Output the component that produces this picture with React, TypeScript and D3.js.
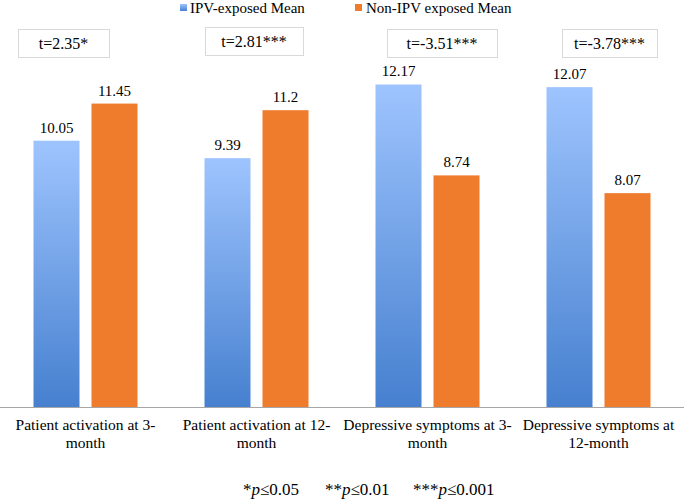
import React from "react";
import * as d3 from "d3";

const categories = [
  ["Patient activation at 3-", "month"],
  ["Patient activation at 12-", "month"],
  ["Depressive symptoms at 3-", "month"],
  ["Depressive symptoms at", "12-month"],
];
const ipvMeans = [10.05, 9.39, 12.17, 12.07];
const nonIpvMeans = [11.45, 11.2, 8.74, 8.07];
const ipvLabels = ["10.05", "9.39", "12.17", "12.07"];
const nonIpvLabels = ["11.45", "11.2", "8.74", "8.07"];
const tStats = ["t=2.35*", "t=2.81***", "t=-3.51***", "t=-3.78***"];
const seriesNames = ["IPV-exposed Mean", "Non-IPV exposed Mean"];
const footStars = ["*", "**", "***"];
const footValues = ["≤0.05", "≤0.01", "≤0.001"];

const W = 684;
const H = 503;
const FONT = "Liberation Serif, DejaVu Serif, serif";

export default function App() {
  const x = d3.scaleBand<number>().domain(d3.range(categories.length)).range([0, W]);
  const y = d3.scaleLinear().domain([0, 14]).range([407, 36]);
  const barW = 46;
  const gap = 12;
  const boxes = [
    { x: 18, y: 29, w: 91, h: 28 },
    { x: 205, y: 27, w: 98, h: 28 },
    { x: 387, y: 29, w: 110, h: 28 },
    { x: 562, y: 29, w: 95, h: 28 },
  ];
  const footX = [243, 325, 413];
  const ts = { fontFamily: FONT };
  return (
    <svg width={W} height={H} style={{ position: "absolute", left: 0, top: 0, background: "#fff", fontFamily: FONT }}>
      <defs>
        <linearGradient id="blueGrad" x1="0" y1="0" x2="0" y2="1">
          <stop offset="0" stopColor="#9ec4fe" />
          <stop offset="1" stopColor="#4680cf" />
        </linearGradient>
      </defs>
      <rect width={W} height={H} fill="#fff" />
      <rect x={180} y={4} width={7} height={7} fill="url(#blueGrad)" />
      <text x={190} y={13} fontSize={15} style={ts} fill="#000">{seriesNames[0]}</text>
      <rect x={355} y={4} width={7} height={7} fill="#ef7b2d" />
      <text x={366} y={13} fontSize={15} style={ts} fill="#000">{seriesNames[1]}</text>
      {categories.map((c, i) => {
        const cx = (x(i) as number) + x.bandwidth() / 2;
        const bx = cx - gap / 2 - barW;
        const ox = cx + gap / 2;
        const b = boxes[i];
        return (
          <g key={i}>
            <rect x={b.x + 0.5} y={b.y + 0.5} width={b.w} height={b.h} fill="#fff" stroke="#d9d9d9" />
            <text x={b.x + b.w / 2} y={b.y + 19.5} fontSize={16} style={ts} textAnchor="middle">{tStats[i]}</text>
            <rect x={bx} y={y(ipvMeans[i])} width={barW} height={y(0) - y(ipvMeans[i])} fill="url(#blueGrad)" />
            <rect x={ox} y={y(nonIpvMeans[i])} width={barW} height={y(0) - y(nonIpvMeans[i])} fill="#ef7b2d" />
            <text x={bx + barW / 2} y={y(ipvMeans[i]) - 8} fontSize={15} style={ts} textAnchor="middle">{ipvLabels[i]}</text>
            <text x={ox + barW / 2} y={y(nonIpvMeans[i]) - 8} fontSize={15} style={ts} textAnchor="middle">{nonIpvLabels[i]}</text>
            <text x={cx} y={430} fontSize={15.5} style={ts} textAnchor="middle">{c[0]}</text>
            <text x={cx} y={448} fontSize={15.5} style={ts} textAnchor="middle">{c[1]}</text>
          </g>
        );
      })}
      <line x1={0} x2={W} y1={y(0) + 0.5} y2={y(0) + 0.5} stroke="#a6a6a6" />
      {footStars.map((s, i) => (
        <text key={i} x={footX[i]} y={495} fontSize={17} style={ts}>
          {s}<tspan fontStyle="italic">p</tspan>{footValues[i]}
        </text>
      ))}
    </svg>
  );
}
